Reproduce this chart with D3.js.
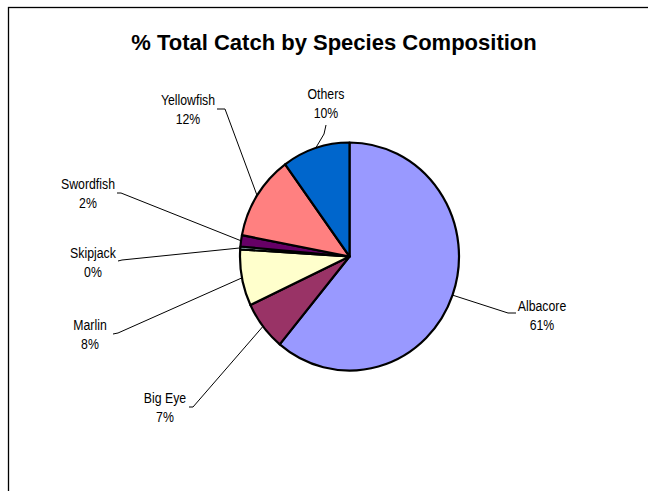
<!DOCTYPE html>
<html>
<head>
<meta charset="utf-8">
<script src="https://cdn.jsdelivr.net/npm/d3@7"></script>
<style>
  html, body { margin: 0; padding: 0; background: #fff; }
  svg { display: block; }
</style>
</head>
<body>
<svg id="chart" width="648" height="491"></svg>
<script>
// Catch composition by species (percent of total catch)
const species = ["Albacore", "Big Eye", "Marlin", "Skipjack", "Swordfish", "Yellowfish", "Others"];
const shares  = [61, 7, 8, 0.4, 1.6, 12, 10];
const colors  = ["#9999FF", "#993366", "#FFFFCC", "#CCFFFF", "#660066", "#FF8080", "#0066CC"];

// Label placement: text centre (x, first-line y), leader elbow and leader end
const labelLayout = {
  "Albacore":   { x: 542, y: 306, elbow: [508, 313], end: [516, 313] },
  "Big Eye":    { x: 165, y: 398, elbow: [193, 407], end: [189, 407] },
  "Marlin":     { x: 90,  y: 325, elbow: [118, 333], end: [113, 334] },
  "Skipjack":   { x: 93,  y: 253, elbow: [122, 260], end: [118, 261] },
  "Swordfish":  { x: 88,  y: 184, elbow: [121, 193], end: [117, 193] },
  "Yellowfish": { x: 188, y: 100, elbow: [225, 109], end: [217, 109] },
  "Others":     { x: 326, y: 94,  elbow: [324, 134], end: [326, 125] }
};

const svg = d3.select("#chart");
const W = 648, H = 491;

// Outer frame (runs off the right and bottom edges)
svg.append("rect")
  .attr("x", 8.5).attr("y", 7.5)
  .attr("width", W).attr("height", H)
  .attr("fill", "none").attr("stroke", "#000").attr("stroke-width", 1.3);

// Title
svg.append("text")
  .attr("x", 334).attr("y", 50)
  .attr("text-anchor", "middle")
  .attr("font-family", "'Liberation Sans', Arial, sans-serif")
  .attr("font-weight", "bold")
  .attr("font-size", 22)
  .attr("fill", "#000")
  .text("% Total Catch by Species Composition");

// Pie geometry (slightly taller than wide)
const cx = 349.5, cy = 256.5, rx = 109.5, ry = 114;

const data = species.map((s, i) => ({ name: s, value: shares[i], color: colors[i] }));
const pie = d3.pie().sort(null).value(d => d.value).startAngle(0).endAngle(2 * Math.PI);
const arcs = pie(data);
const arc = d3.arc().innerRadius(0).outerRadius(ry);

const pieG = svg.append("g")
  .attr("transform", `translate(${cx},${cy}) scale(${rx / ry},1)`);

pieG.selectAll("path.slice")
  .data(arcs)
  .join("path")
  .attr("class", "slice")
  .attr("d", arc)
  .attr("fill", d => d.data.color)
  .attr("stroke", "#000")
  .attr("stroke-width", 2.2)
  .attr("stroke-linejoin", "round")
  .attr("vector-effect", "non-scaling-stroke");

// Point on the pie rim at a slice's mid angle
function rimPoint(d) {
  const a = (d.startAngle + d.endAngle) / 2;
  return [cx + rx * Math.sin(a), cy - ry * Math.cos(a)];
}

const labelG = svg.append("g");

// Leader lines
labelG.selectAll("polyline")
  .data(arcs)
  .join("polyline")
  .attr("points", d => {
    const L = labelLayout[d.data.name];
    return [rimPoint(d), L.elbow, L.end].map(p => p.join(",")).join(" ");
  })
  .attr("fill", "none")
  .attr("stroke", "#000")
  .attr("stroke-width", 1);

// Category name and rounded percentage
const fmt = v => Math.round(v) + "%";
const labels = labelG.selectAll("g.lbl")
  .data(arcs)
  .join("g")
  .attr("class", "lbl")
  .attr("transform", d => {
    const L = labelLayout[d.data.name];
    return `translate(${L.x},${L.y}) scale(0.82,1)`;
  });

labels.append("text")
  .attr("text-anchor", "middle")
  .attr("dy", "0.36em")
  .attr("font-family", "'Liberation Sans', Arial, sans-serif")
  .attr("font-size", 15)
  .attr("fill", "#000")
  .text(d => d.data.name);

labels.append("text")
  .attr("text-anchor", "middle")
  .attr("y", 19)
  .attr("dy", "0.36em")
  .attr("font-family", "'Liberation Sans', Arial, sans-serif")
  .attr("font-size", 15)
  .attr("fill", "#000")
  .text(d => fmt(d.data.value));
</script>
</body>
</html>
